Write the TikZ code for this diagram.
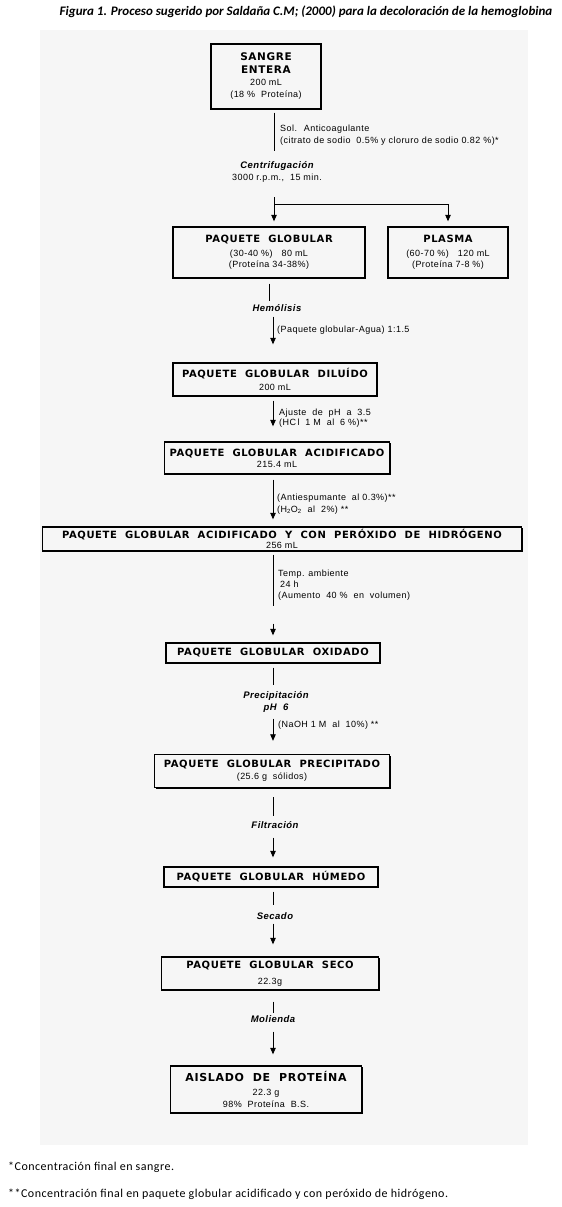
\documentclass[tikz,border=0pt]{standalone}
\usepackage{fontspec}
\setmainfont{Liberation Sans}
\newfontfamily\headfont[LetterSpace=6,WordSpace=2,UprightFont=* Bold]{DejaVu Sans}
\newfontfamily\subfont[LetterSpace=5]{Liberation Sans}
\newfontfamily\pasofont[LetterSpace=5,UprightFont=* Bold Italic]{Liberation Sans}
\newfontfamily\notefont[LetterSpace=4]{Carlito}
\newfontfamily\titlefont[UprightFont=* Bold Italic]{Carlito}
\usetikzlibrary{arrows.meta, positioning, shadows}
\definecolor{scangray}{RGB}{246,246,246}
\newcommand{\cabeza}{\headfont\fontsize{10}{12}\selectfont}
\newcommand{\cabezag}{\headfont\fontsize{10.5}{12}\selectfont}
\newcommand{\cabezaxl}{\headfont\fontsize{11}{12}\selectfont}

\begin{document}
\begin{tikzpicture}[x=1pt, y=-1pt,
  procbox/.style={draw, line width=1.4pt, fill=scangray, align=center, inner sep=2pt,
    font=\subfont\fontsize{9}{12}\selectfont,
    drop shadow={shadow xshift=1.2pt, shadow yshift=-1.2pt, fill=black, opacity=1}},
  paso/.style={font=\pasofont\fontsize{9.5}{12}\selectfont, align=center, inner sep=1pt},
  nota/.style={font=\subfont\fontsize{9}{12}\selectfont, align=left, anchor=west, inner sep=0pt},
  linea/.style={line width=0.8pt},
  flecha/.style={-{Triangle[length=6.5pt,width=5.5pt]}, line width=0.8pt}]
\useasboundingbox (0,0) rectangle (562,1207);
% scanned background
\fill[scangray] (40,30) rectangle (528,1145);
\node[font=\titlefont\fontsize{13}{15}\selectfont] (titulo) at (306,12)
  {Figura 1. Proceso sugerido por Saldaña C.M; (2000) para la decoloración de la hemoglobina};
\coordinate (eje) at (273,0);
\coordinate (rama) at (274,204);
% boxes
\node[procbox, minimum width=110pt, minimum height=65pt] (sangre) at (266,76.5)
  {{\cabezag SANGRE}\\[1pt]{\cabezag ENTERA}\\200 mL\\(18 \%~ Proteína)};
\node[procbox, minimum width=192pt, minimum height=51pt] (pglob) at (269,252.5)
  {{\cabeza PAQUETE GLOBULAR}\\[2pt](30-40 \%)\quad 80 mL\\[-1pt](Proteína 34-38\%)};
\node[procbox, minimum width=120pt, minimum height=51pt] (plasma) at (448,252.5)
  {{\cabeza PLASMA}\\[2pt](60-70 \%)\quad 120 mL\\[-1pt](Proteína 7-8 \%)};
\node[procbox, minimum width=204pt, minimum height=33pt] (diluido) at (275,379.5)
  {{\cabeza PAQUETE GLOBULAR DILUÍDO}\\[1pt]200 mL};
\node[procbox, minimum width=225pt, minimum height=32pt] (acidif) at (277,458)
  {{\cabeza PAQUETE GLOBULAR ACIDIFICADO}\\[-1pt]215.4 mL};
\node[procbox, minimum width=479pt, minimum height=24pt] (peroxido) at (282,539)
  {{\cabeza PAQUETE GLOBULAR ACIDIFICADO Y CON PERÓXIDO DE HIDRÓGENO}\\[-2pt]256 mL};
\node[procbox, minimum width=214pt, minimum height=20pt] (oxidado) at (273,653)
  {{\cabeza PAQUETE GLOBULAR OXIDADO}};
\node[procbox, minimum width=235pt, minimum height=33pt] (precip) at (272,771)
  {{\cabeza PAQUETE GLOBULAR PRECIPITADO}\\(25.6 g~ sólidos)};
\node[procbox, minimum width=214pt, minimum height=20pt] (humedo) at (271,877)
  {{\cabeza PAQUETE GLOBULAR HÚMEDO}};
\node[procbox, minimum width=217pt, minimum height=33pt] (seco) at (270,973.5)
  {{\cabeza PAQUETE GLOBULAR SECO}\\[4pt]22.3g};
\node[procbox, minimum width=191pt, minimum height=47pt] (aislado) at (266,1089.5)
  {{\cabezaxl AISLADO DE PROTEÍNA}\\[2pt]22.3 g\\98\%~ Proteína~ B.S.};
% step labels
\node[paso] (centrif) at (277,171.5) {Centrifugación\\{\subfont\fontsize{9}{12}\selectfont 3000 r.p.m.,~ 15 min.}};
\node[paso] (hemolisis) at (277,308) {Hemólisis};
\node[paso] (precipit) at (276,702) {Precipitación\\pH~ 6};
\node[paso] (filtr) at (275,825) {Filtración};
\node[paso] (secado) at (275,916) {Secado};
\node[paso] (molienda) at (273,1019) {Molienda};
% side notes
\node[nota] (anticoag) at (280,135) {Sol.~ Anticoagulante\\(citrato de sodio~ 0.5\% y cloruro de sodio 0.82 \%)*};
\node[nota] (agua) at (277,330) {(Paquete globular-Agua) 1:1.5};
\node[nota] (ajuste) at (279,418) {Ajuste~ de~ pH~ a~ 3.5\\[-2pt](HC\,l~ 1 M~ al~ 6 \%)**};
\node[nota] (antiesp) at (277,504) {(Antiespumante~ al 0.3\%)**\\(H\textsubscript{2}O\textsubscript{2}~ al~ 2\%) **};
\node[nota] (temp) at (278,585) {Temp. ambiente\\[-1pt]\hspace{2pt}24 h\\[-1pt](Aumento~ 40 \%~ en~ volumen)};
\node[nota] (naoh) at (278,725) {(NaOH 1 M~ al~ 10\%) **};
% footnotes
\node[anchor=west, inner sep=0pt, font=\notefont\fontsize{12}{14}\selectfont] (nota1) at (8,1167) {*Concentración final en sangre.};
\node[anchor=west, inner sep=0pt, font=\notefont\fontsize{12}{14}\selectfont] (nota2) at (8,1194) {**Concentración final en paquete globular acidificado y con peróxido de hidrógeno.};
% connectors
\draw[linea, shorten <=3pt, shorten >=9pt] (sangre.south -| rama) -- (centrif.north -| rama);
\draw[flecha, shorten <=14pt, shorten >=5pt] (centrif.south -| rama) -- (rama |- pglob.north);
\draw[flecha, shorten >=5pt] (rama) -| (plasma.north);
\draw[linea, shorten <=5pt, shorten >=2pt] (pglob.south) -- (hemolisis.north -| pglob.south);
\draw[flecha, shorten <=4pt, shorten >=18pt] (hemolisis.south -| eje) -- (eje |- diluido.north);
\draw[flecha, shorten <=4pt, shorten >=15pt] (diluido.south -| eje) -- (eje |- acidif.north);
\draw[flecha, shorten <=5pt, shorten >=7pt] (acidif.south -| eje) -- (eje |- peroxido.north);
\draw[linea, shorten <=3pt, shorten >=36pt] (peroxido.south -| eje) -- (eje |- oxidado.north);
\draw[flecha, shorten <=72pt, shorten >=7pt] (peroxido.south -| eje) -- (eje |- oxidado.north);
\draw[linea, shorten <=4pt, shorten >=5pt] (oxidado.south -| eje) -- (precipit.north -| eje);
\draw[flecha, shorten <=5pt, shorten >=13pt] (precipit.south -| eje) -- (eje |- precip.north);
\draw[linea, shorten <=9pt, shorten >=4pt] (precip.south -| eje) -- (filtr.north -| eje);
\draw[flecha, shorten <=8pt, shorten >=9pt] (filtr.south -| eje) -- (eje |- humedo.north);
\draw[linea, shorten <=4pt, shorten >=6pt] (humedo.south -| eje) -- (secado.north -| eje);
\draw[flecha, shorten <=3pt, shorten >=12pt] (secado.south -| eje) -- (eje |- seco.north);
\draw[linea, shorten <=11pt, shorten >=1pt] (seco.south -| eje) -- (molienda.north -| eje);
\draw[flecha, shorten <=8pt, shorten >=11pt] (molienda.south -| eje) -- (eje |- aislado.north);
\end{tikzpicture}
\end{document}
